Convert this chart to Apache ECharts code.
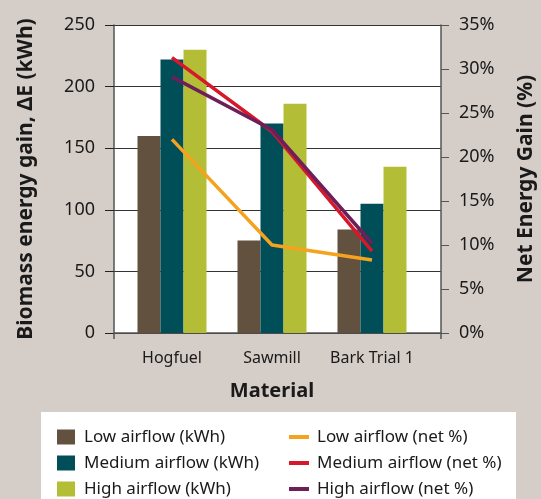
<!DOCTYPE html>
<html>
<head>
<meta charset="utf-8">
<script src="https://cdn.jsdelivr.net/npm/echarts@6/dist/echarts.min.js"></script>
<style>
html,body{margin:0;padding:0;background:#d5cdc7;}
#c{width:541px;height:499px;}
</style>
</head>
<body>
<div id="c"></div>
<script>
const categories = ['Hogfuel', 'Sawmill', 'Bark Trial 1'];
const lowKwh = [160, 75, 84];
const medKwh = [222, 170, 105];
const highKwh = [230, 186, 135];
const lowPct = [22.0, 10.0, 8.3];
const medPct = [31.3, 22.9, 9.3];
const highPct = [29.1, 23.1, 10.2];
const leftTicks = {min: 0, max: 250, interval: 50};
const rightTicks = {min: 0, max: 35, interval: 5};

const FONT = '"Noto Sans", sans-serif';
const TXT = '#1a1a1a';
const chart = echarts.init(document.getElementById('c'));

const barNames = ['Low airflow (kWh)', 'Medium airflow (kWh)', 'High airflow (kWh)'];
const lineNames = ['Low airflow (net %)', 'Medium airflow (net %)', 'High airflow (net %)'];
const barColors = ['#63513f', '#004f58', '#b3bd35'];
const lineColors = ['#f5a31e', '#d7182a', '#6e1f5a'];

const barSeries = [lowKwh, medKwh, highKwh].map((d, i) => ({
  name: barNames[i], type: 'bar', xAxisIndex: 1, yAxisIndex: 2,
  data: d, barWidth: 23, barGap: '0%', itemStyle: {color: barColors[i]}, z: 2
}));
const lineSeries = [lowPct, medPct, highPct].map((d, i) => ({
  name: lineNames[i], type: 'line', xAxisIndex: 1, yAxisIndex: 3,
  data: d, symbol: 'none', lineStyle: {color: lineColors[i], width: 3.5},
  itemStyle: {color: lineColors[i]}, z: 3
}));

chart.setOption({
  backgroundColor: '#d5cdc7',
  textStyle: {fontFamily: FONT},
  animation: false,
  graphic: [{type: 'rect', shape: {x: 41, y: 412, width: 475, height: 100}, style: {fill: '#ffffff'}, z: -1}],
  grid: [
    {left: 114, right: 100, top: 25, bottom: 166, show: true, backgroundColor: '#ffffff', borderWidth: 0, outerBoundsMode: 'none', containLabel: false},
    {left: 122, width: 300, top: 25, bottom: 166, outerBoundsMode: 'none', containLabel: false}
  ],
  xAxis: [
    {gridIndex: 0, type: 'value', min: 0, max: 1, interval: 1,
     axisLine: {show: true, lineStyle: {color: '#555', width: 1.5}},
     axisTick: {show: true, length: 6, lineStyle: {color: '#555', width: 1.5}},
     axisLabel: {show: false}, splitLine: {show: false}},
    {gridIndex: 1, type: 'category', data: categories,
     axisLine: {show: false}, axisTick: {show: false},
     axisLabel: {fontSize: 16, margin: 17, color: TXT, fontFamily: FONT, interval: 0, hideOverlap: false},
     name: 'Material', nameLocation: 'middle', nameGap: 48,
     nameTextStyle: {fontSize: 20, fontWeight: 'bold', color: TXT, fontFamily: FONT}}
  ],
  yAxis: [
    {gridIndex: 0, type: 'value', position: 'left', min: leftTicks.min, max: leftTicks.max, interval: leftTicks.interval,
     axisLine: {show: true, lineStyle: {color: '#555', width: 1.5}},
     axisTick: {show: true, length: 9, lineStyle: {color: '#222', width: 1}},
     axisLabel: {fontSize: 18, margin: 19, color: TXT, fontFamily: FONT},
     splitLine: {show: true, lineStyle: {color: '#333', width: 1}},
     name: 'Biomass energy gain, ΔE (kWh)', nameLocation: 'middle', nameGap: 77, nameRotate: 90,
     nameTextStyle: {fontSize: 21, fontWeight: 'bold', color: TXT, fontFamily: FONT}},
    {gridIndex: 0, type: 'value', position: 'right', min: rightTicks.min, max: rightTicks.max, interval: rightTicks.interval,
     axisLine: {show: true, lineStyle: {color: '#555', width: 1.5}},
     axisTick: {show: true, length: 8, lineStyle: {color: '#555', width: 1}},
     axisLabel: {fontSize: 18, margin: 18, color: TXT, fontFamily: FONT, formatter: '{value}%'},
     splitLine: {show: false},
     name: 'Net Energy Gain (%)', nameLocation: 'middle', nameGap: 75, nameRotate: 90,
     nameTextStyle: {fontSize: 21, fontWeight: 'bold', color: TXT, fontFamily: FONT}},
    {gridIndex: 1, type: 'value', min: leftTicks.min, max: leftTicks.max, show: false},
    {gridIndex: 1, type: 'value', min: rightTicks.min, max: rightTicks.max, show: false}
  ],
  legend: [
    {data: barNames, orient: 'vertical', left: 57, top: 428, padding: 0, itemWidth: 18, itemHeight: 15, itemGap: 8,
     icon: 'rect', textStyle: {fontSize: 17, color: TXT, fontFamily: FONT, lineHeight: 18, padding: [0, 0, 0, 4]}},
    {data: lineNames, orient: 'vertical', left: 289, top: 428, padding: 0, itemWidth: 20, itemHeight: 4, itemGap: 8,
     icon: 'rect', textStyle: {fontSize: 17, color: TXT, fontFamily: FONT, lineHeight: 18, padding: [0, 0, 0, 3]}}
  ],
  series: barSeries.concat(lineSeries)
});
</script>
</body>
</html>
